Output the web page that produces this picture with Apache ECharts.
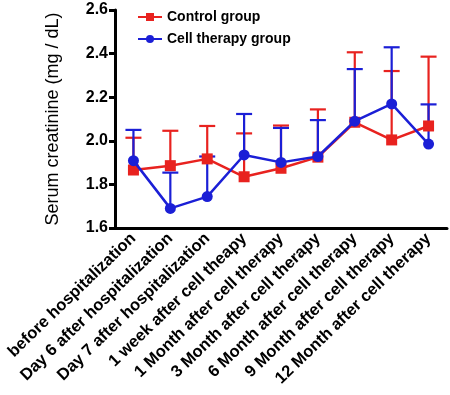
<!DOCTYPE html>
<html>
<head>
<meta charset="utf-8">
<script src="https://cdn.jsdelivr.net/npm/echarts@6/dist/echarts.min.js"></script>
<style>
  html, body { margin: 0; padding: 0; background: #fff; }
  #chart { width: 450px; height: 395px; }
</style>
</head>
<body>
<div id="chart"></div>
<script>
var categories = ['before hospitalization', 'Day 6 after hospitalization', 'Day 7 after hospitalization',
  '1 week after cell theapy', '1 Month after cell therapy', '3 Month after cell therapy',
  '6 Month after cell therapy', '9 Month after cell therapy', '12 Month after cell therapy'];
var controlMean = [1.866, 1.886, 1.917, 1.835, 1.874, 1.925, 2.085, 2.004, 2.068];
var controlUpper = [2.014, 2.046, 2.068, 2.034, 2.070, 2.144, 2.406, 2.320, 2.386];
var cellMean = [1.909, 1.690, 1.744, 1.935, 1.901, 1.928, 2.090, 2.169, 1.985];
var cellUpper = [2.050, 1.854, 1.928, 2.123, 2.059, 2.095, 2.329, 2.429, 2.167];

var RED = '#e8221f', BLUE = '#1b1fd6';
var FONT = 'Liberation Sans, Arial, sans-serif';

function errData(mean, upper) {
  return mean.map(function (m, i) { return [i, m, upper[i]]; });
}

function errRender(color) {
  return function (params, api) {
    var x = api.value(0);
    var p0 = api.coord([x, api.value(1)]);
    var p1 = api.coord([x, api.value(2)]);
    var half = 8;
    return {
      type: 'group',
      children: [
        { type: 'line', shape: { x1: p0[0], y1: p0[1], x2: p1[0], y2: p1[1] },
          style: { stroke: color, lineWidth: 2.2 } },
        { type: 'line', shape: { x1: p1[0] - half, y1: p1[1], x2: p1[0] + half, y2: p1[1] },
          style: { stroke: color, lineWidth: 2.2 } }
      ]
    };
  };
}

var chart = echarts.init(document.getElementById('chart'));
chart.setOption({
  animation: false,
  grid: { left: 115, right: 3, top: 10, bottom: 167 },
  legend: {
    left: 132, top: 5, orient: 'vertical', itemGap: 8, itemWidth: 24, itemHeight: 10,
    data: ['Control group', 'Cell therapy group'],
    textStyle: { fontFamily: FONT, fontWeight: 'bold', fontSize: 14, color: '#000' }
  },
  xAxis: {
    type: 'category',
    data: categories,
    boundaryGap: true,
    axisLine: { lineStyle: { color: '#000', width: 3 } },
    axisTick: { show: false },
    axisLabel: { rotate: 44, interval: 0, margin: 8, color: '#000', fontFamily: FONT,
      fontWeight: 'bold', fontSize: 16.5 }
  },
  yAxis: {
    type: 'value', min: 1.6, max: 2.6, interval: 0.2,
    name: 'Serum creatinine (mg / dL)', nameLocation: 'middle', nameGap: 53,
    nameTextStyle: { fontFamily: FONT, fontSize: 18, color: '#000' },
    splitLine: { show: false },
    axisLine: { show: true, lineStyle: { color: '#000', width: 3 } },
    axisTick: { show: true, length: 6, lineStyle: { color: '#000', width: 3 } },
    axisLabel: { color: '#000', fontFamily: FONT, fontWeight: 'bold', fontSize: 16, margin: 7,
      formatter: function (v) { return v.toFixed(1); } }
  },
  series: [
    { name: 'ctrlErr', type: 'custom', renderItem: errRender(RED), data: errData(controlMean, controlUpper),
      encode: { x: 0, y: [1, 2] }, z: 1 },
    { name: 'cellErr', type: 'custom', renderItem: errRender(BLUE), data: errData(cellMean, cellUpper),
      encode: { x: 0, y: [1, 2] }, z: 1 },
    { name: 'Control group', type: 'line', data: controlMean, symbol: 'rect', symbolSize: 11,
      itemStyle: { color: RED }, lineStyle: { color: RED, width: 2.5 }, z: 2 },
    { name: 'Cell therapy group', type: 'line', data: cellMean, symbol: 'circle', symbolSize: 11,
      itemStyle: { color: BLUE }, lineStyle: { color: BLUE, width: 2.5 }, z: 3 }
  ]
});
</script>
</body>
</html>
